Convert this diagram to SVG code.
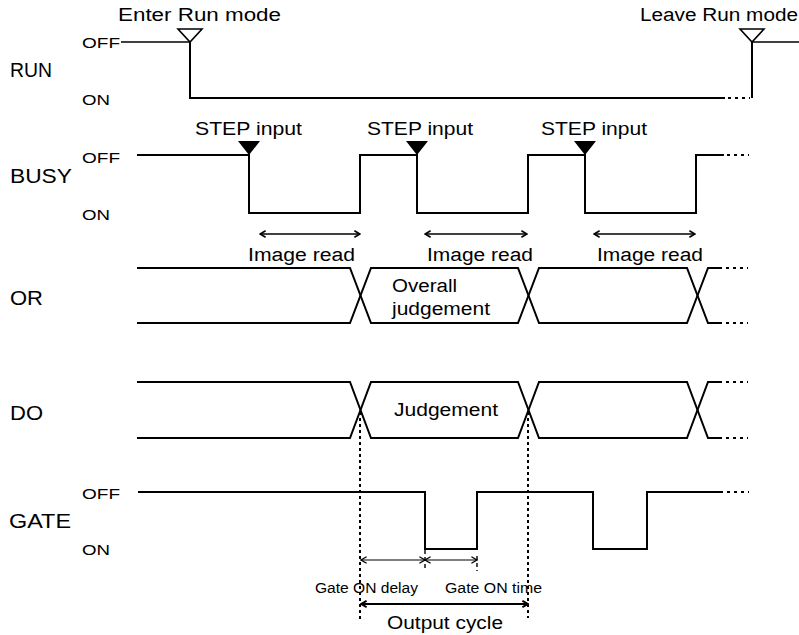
<svg xmlns="http://www.w3.org/2000/svg" width="799" height="635" viewBox="0 0 799 635">
<style>
text{font-family:"Liberation Sans",Arial,sans-serif;fill:#000}
.lab{font-size:19.5px}
.st{font-size:15px}
.t{font-size:18px}
.s{font-size:14px}
.sig{fill:none;stroke:#000;stroke-width:2}
.thin{fill:none;stroke:#000;stroke-width:1.4}
.dots{fill:none;stroke:#000;stroke-width:2;stroke-dasharray:3 4}
.vdot{fill:none;stroke:#000;stroke-width:2;stroke-dasharray:3 3}
.tick{fill:none;stroke:#000;stroke-width:1.4;stroke-dasharray:4 3}
.dim{fill:none;stroke:#000;stroke-width:1.5;marker-start:url(#ah);marker-end:url(#ah)}
.dims{fill:none;stroke:#000;stroke-width:1.2;marker-start:url(#ah2);marker-end:url(#ah2)}
.dimb{fill:none;stroke:#000;stroke-width:2.2;marker-start:url(#ah3);marker-end:url(#ah3)}
</style>
<defs>
<marker id="ah" viewBox="0 0 10 10" refX="9" refY="5" markerWidth="8" markerHeight="9" markerUnits="userSpaceOnUse" orient="auto-start-reverse"><path d="M2,1 L9,5 L2,9" fill="none" stroke="#000" stroke-width="2"/></marker>
<marker id="ah2" viewBox="0 0 10 10" refX="9" refY="5" markerWidth="8" markerHeight="9" markerUnits="userSpaceOnUse" orient="auto-start-reverse"><path d="M2,1 L9,5 L2,9" fill="none" stroke="#000" stroke-width="1.6"/></marker>
<marker id="ah3" viewBox="0 0 10 10" refX="9" refY="5" markerWidth="8" markerHeight="9" markerUnits="userSpaceOnUse" orient="auto-start-reverse"><path d="M2,1 L9,5 L2,9" fill="none" stroke="#000" stroke-width="2.4"/></marker>
</defs>
<rect width="799" height="635" fill="#fff"/>

<g id="run">
<text class="lab" x="10" y="77" textLength="42" lengthAdjust="spacingAndGlyphs">RUN</text>
<text class="st" x="82" y="48" textLength="38" lengthAdjust="spacingAndGlyphs">OFF</text>
<text class="st" x="82" y="105" textLength="28" lengthAdjust="spacingAndGlyphs">ON</text>
<text class="t" x="118" y="21" textLength="163" lengthAdjust="spacingAndGlyphs">Enter Run mode</text>
<text class="t" x="640" y="21" textLength="158" lengthAdjust="spacingAndGlyphs">Leave Run mode</text>
<path class="thin" d="M121,42 H190"/>
<path class="sig" d="M190,42 V98 H725"/>
<path class="dots" d="M728,98 H750"/>
<path class="sig" d="M752,98 V42"/>
<path class="thin" d="M752,42 H799"/>
<path d="M178,29 L202,29 L190,42 Z" fill="#fff" stroke="#000" stroke-width="1.6"/>
<path d="M740,29 L764,29 L752,42 Z" fill="#fff" stroke="#000" stroke-width="1.6"/>
</g>

<g id="busy">
<text class="lab" x="10" y="183" textLength="62" lengthAdjust="spacingAndGlyphs">BUSY</text>
<text class="st" x="82" y="163" textLength="38" lengthAdjust="spacingAndGlyphs">OFF</text>
<text class="st" x="82" y="220" textLength="28" lengthAdjust="spacingAndGlyphs">ON</text>
<path class="sig" d="M137,155 H249 V213 H360 V155 H417 V213 H528 V155 H585 V213 H696 V155 H724"/>
<path class="dots" d="M727,155 H749"/>
<path d="M238,141 L260,141 L249,155 Z"/>
<path d="M406,141 L428,141 L417,155 Z"/>
<path d="M574,141 L596,141 L585,155 Z"/>
<text class="t" x="195" y="135" textLength="107" lengthAdjust="spacingAndGlyphs">STEP input</text>
<text class="t" x="367" y="135" textLength="106" lengthAdjust="spacingAndGlyphs">STEP input</text>
<text class="t" x="541" y="135" textLength="106" lengthAdjust="spacingAndGlyphs">STEP input</text>
<text class="t" x="248" y="261" textLength="107" lengthAdjust="spacingAndGlyphs">Image read</text>
<text class="t" x="427" y="261" textLength="106" lengthAdjust="spacingAndGlyphs">Image read</text>
<text class="t" x="597" y="261" textLength="106" lengthAdjust="spacingAndGlyphs">Image read</text>
</g>

<g id="or">
<text class="lab" x="10" y="305" textLength="33" lengthAdjust="spacingAndGlyphs">OR</text>
<path class="sig" d="M137,268 H350 L371,323 H518 L539,268 H687 L708,323 H722"/>
<path class="sig" d="M137,323 H350 L371,268 H518 L539,323 H687 L708,268 H722"/>
<path class="dots" d="M726,268 H748 M726,323 H748"/>
<text class="t" x="392" y="292" textLength="65" lengthAdjust="spacingAndGlyphs">Overall</text>
<text class="t" x="392" y="315" textLength="98" lengthAdjust="spacingAndGlyphs">judgement</text>
</g>

<g id="do">
<text class="lab" x="10" y="420" textLength="33" lengthAdjust="spacingAndGlyphs">DO</text>
<path class="sig" d="M137,382 H350 L371,438 H518 L539,382 H687 L708,438 H722"/>
<path class="sig" d="M137,438 H350 L371,382 H518 L539,438 H687 L708,382 H722"/>
<path class="dots" d="M726,382 H748 M726,438 H748"/>
<text class="t" x="394" y="416" textLength="104" lengthAdjust="spacingAndGlyphs">Judgement</text>
</g>

<g id="gate">
<text class="lab" x="9" y="528" textLength="62" lengthAdjust="spacingAndGlyphs">GATE</text>
<text class="st" x="82" y="499" textLength="38" lengthAdjust="spacingAndGlyphs">OFF</text>
<text class="st" x="82" y="555" textLength="28" lengthAdjust="spacingAndGlyphs">ON</text>
<path class="sig" d="M138,492 H425 V549 H477 V492 H593 V549 H647 V492 H723"/>
<path class="dots" d="M727,492 H749"/>
<text class="s" x="315" y="593" textLength="103" lengthAdjust="spacingAndGlyphs">Gate ON delay</text>
<text class="s" x="445" y="593" textLength="97" lengthAdjust="spacingAndGlyphs">Gate ON time</text>
<text class="t" x="387" y="629" textLength="116" lengthAdjust="spacingAndGlyphs">Output cycle</text>
</g>

<g id="connectors">
<path class="dim" d="M260,234 H360"/>
<path class="dim" d="M425,234 H527"/>
<path class="dim" d="M594,234 H695"/>
<path class="vdot" d="M360,412 V621"/>
<path class="vdot" d="M528,412 V618"/>
<path class="tick" d="M425,550 V571"/>
<path class="tick" d="M477,556 V571"/>
<path class="dims" d="M361,560 H425"/>
<path class="dims" d="M425,560 H477"/>
<path class="dimb" d="M361,604 H528"/>
</g>
</svg>
